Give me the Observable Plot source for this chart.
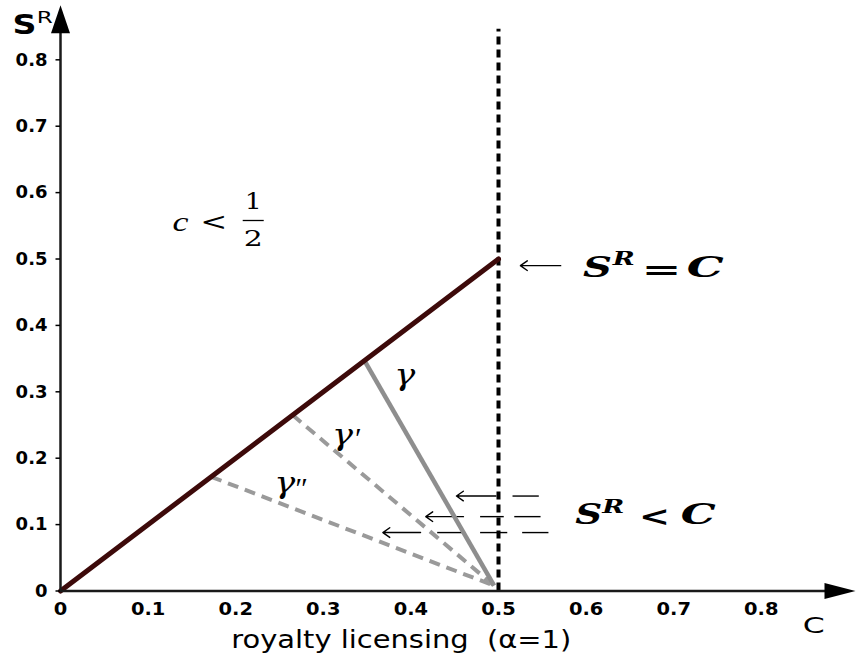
<!DOCTYPE html>
<html><head><meta charset="utf-8">
<script src="https://cdn.jsdelivr.net/npm/d3@7"></script>
<script src="https://cdn.jsdelivr.net/npm/@observablehq/plot@0.6"></script>
<style>body{margin:0;background:#fff} #chart svg{display:block}</style>
</head><body><div id="chart"></div>
<script>
// ---- data ----
const xTicks = [0, 0.1, 0.2, 0.3, 0.4, 0.5, 0.6, 0.7, 0.8];
const yTicks = [0, 0.1, 0.2, 0.3, 0.4, 0.5, 0.6, 0.7, 0.8];
const boundaryLine = [{c: 0, s: 0}, {c: 0.5, s: 0.5}];      // S^R = C
const thresholdC = [0.5];                                   // c = 1/2
const thresholdTop = 0.846;
const gammaStarts = [0.347, 0.265, 0.172];                  // γ, γ′, γ″ on the diagonal
const gammaDashed = [false, true, true];
const convergeC = 0.495, convergeS = 0.008;
const arrowHeads = [ // left-pointing arrows: from x1 to x2 at level y
  {x1: 0.497, x2: 0.452, y: 0.143},
  {x1: 0.460, x2: 0.417, y: 0.112},
  {x1: 0.411, x2: 0.368, y: 0.088},
  {x1: 0.571, x2: 0.525, y: 0.490}
];
const arrowDashes = [
  {x1: 0.516, x2: 0.546, y: 0.143},
  {x1: 0.479, x2: 0.506, y: 0.112},
  {x1: 0.518, x2: 0.548, y: 0.112},
  {x1: 0.430, x2: 0.462, y: 0.088},
  {x1: 0.479, x2: 0.510, y: 0.088},
  {x1: 0.527, x2: 0.557, y: 0.088}
];
const xMax = 0.9, yMax = 0.88, xTip = 0.9075, yTip = 0.882;

// ---- derived tables ----
const gammaLinks = gammaStarts.map((v, i) => ({x1: v, y1: v, x2: convergeC, y2: convergeS, dashed: gammaDashed[i]}));

const tickFmt = d => d === 0 ? "0" : d3.format(".1f")(d);
const arrowSym = (len, half) => ({draw(ctx) { ctx.moveTo(0, 0); ctx.lineTo(-half, len); ctx.lineTo(half, len); ctx.closePath(); }});
const serif = "DejaVu Serif";
const tserif = "Liberation Serif";
const sans = "DejaVu Sans";

const fitW = [];
let k = 0;
function label(x, y, t, o, w) {
  const cls = "fit" + (k++);
  if (w) fitW.push([cls, w]);
  return Plot.text([t], {x: () => x, y: () => y, text: d => d, className: cls, ...o});
}
const bi = {fontWeight: "bold", fontStyle: "italic", fontFamily: serif};
const gi = {fontSize: 30, fontStyle: "italic", fontFamily: serif};
const pr = {fontSize: 30, fontStyle: "italic", fontFamily: tserif};
const one = [{}];

const chart = Plot.plot({
  width: 856, height: 659,
  marginLeft: 60, marginRight: 7.6, marginTop: 6.2, marginBottom: 68.5,
  style: {background: "white", color: "black", fontFamily: sans},
  x: {domain: [0, xMax]},
  y: {domain: [0, yMax]},
  marks: [
    // arrows in the S^R < C region
    Plot.link(arrowDashes, {x1: "x1", x2: "x2", y1: "y", y2: "y", stroke: "black", strokeWidth: 1.4}),
    Plot.arrow(arrowHeads, {x1: "x1", x2: "x2", y1: "y", y2: "y", stroke: "black", strokeWidth: 1.4, headLength: 9, headAngle: 70}),
    // vertical dashed threshold
    Plot.ruleX(thresholdC, {y1: 0, y2: thresholdTop, stroke: "black", strokeWidth: 4, strokeDasharray: "8,5"}),
    // gamma paths
    Plot.link(gammaLinks.filter(d => d.dashed), {x1: "x1", y1: "y1", x2: "x2", y2: "y2", stroke: "#9a9a9a", strokeWidth: 4, strokeDasharray: "11,7"}),
    Plot.link(gammaLinks.filter(d => !d.dashed), {x1: "x1", y1: "y1", x2: "x2", y2: "y2", stroke: "#8e8e8e", strokeWidth: 4.5}),
    // S^R = C line
    Plot.line(boundaryLine, {x: "c", y: "s", stroke: "#3d0a0a", strokeWidth: 5, strokeLinecap: "round"}),
    // axes lines + arrowheads
    Plot.ruleY([0], {x1: 0, x2: xTip - 0.02, stroke: "#1a1a1a", strokeWidth: 2.5}),
    Plot.ruleX([0], {y1: 0, y2: yTip - 0.02, stroke: "#1a1a1a", strokeWidth: 2.5}),
    Plot.dot(one, {x: () => xTip, y: () => 0, symbol: arrowSym(31, 8), r: 5, fill: "black", stroke: null, rotate: 90}),
    Plot.dot(one, {x: () => 0, y: () => yTip, symbol: arrowSym(28, 9.5), r: 5, fill: "black", stroke: null}),
    // axes: ticks and tick labels
    Plot.axisX(xTicks, {tickSize: 0, tickPadding: 11, tickFormat: tickFmt, fontSize: 18, fontWeight: "bold", fontFamily: sans, label: null}),
    Plot.axisY(yTicks, {tickSize: 4.5, tickPadding: 8.5, tickFormat: tickFmt, fontSize: 18, fontWeight: "bold", fontFamily: sans, label: null, strokeWidth: 1.5}),
    // axis labels
    label(-0.041, 0.852, "S", {fontSize: 27, fontWeight: "bold", fontFamily: sans}, 24),
    label(-0.018, 0.863, "R", {fontSize: 16, fontFamily: sans}, 16),
    label(0.86, -0.052, "C", {fontSize: 22, fontFamily: sans}, 22),
    label(0.389, -0.0745, "royalty licensing  (α=1)", {fontSize: 24, fontFamily: sans}, 340),
    // c < 1/2
    label(0.137, 0.556, "c", {fontSize: 28, fontStyle: "italic", fontFamily: tserif}, 16),
    label(0.175, 0.556, "<", {fontSize: 25, fontFamily: serif}, 27),
    label(0.220, 0.586, "1", {fontSize: 22, fontFamily: serif}, 17),
    label(0.220, 0.530, "2", {fontSize: 22, fontFamily: serif}, 19),
    Plot.link(one, {x1: () => 0.208, x2: () => 0.232, y1: () => 0.558, y2: () => 0.558, stroke: "black", strokeWidth: 1.3}),
    // S^R = C
    label(0.613, 0.486, "S", {fontSize: 28, ...bi}, 29),
    label(0.643, 0.500, "R", {fontSize: 19, ...bi}, 22),
    label(0.686, 0.483, "=", {fontSize: 28, fontWeight: "bold", fontFamily: serif}, 40),
    label(0.736, 0.486, "C", {fontSize: 28, ...bi}, 37),
    // S^R < C
    label(0.603, 0.114, "S", {fontSize: 28, ...bi}, 27),
    label(0.631, 0.127, "R", {fontSize: 19, ...bi}, 22),
    label(0.678, 0.112, "<", {fontSize: 28, fontWeight: "bold", fontFamily: serif}, 31),
    label(0.728, 0.114, "C", {fontSize: 28, ...bi}, 35),
    // gamma labels: γ, γ′, γ″
    label(0.393, 0.3245, "γ", gi, 21),
    label(0.322, 0.234, "γ", gi, 21),
    label(0.338, 0.2305, "′", pr),
    label(0.256, 0.162, "γ", gi, 21),
    label(0.273, 0.155, "″", pr)
  ]
});
document.getElementById("chart").appendChild(chart);

// the reference's lettering is horizontally widened: fit texts to the measured widths
function fit(t, w) { t.setAttribute("textLength", w); t.setAttribute("lengthAdjust", "spacingAndGlyphs"); }
for (const [cls, w] of fitW) chart.querySelectorAll(`g.${cls} text`).forEach(t => fit(t, w));
chart.querySelectorAll('g[aria-label="x-axis tick label"] text').forEach(t => fit(t, t.getComputedTextLength() * 1.08));
</script></body></html>
